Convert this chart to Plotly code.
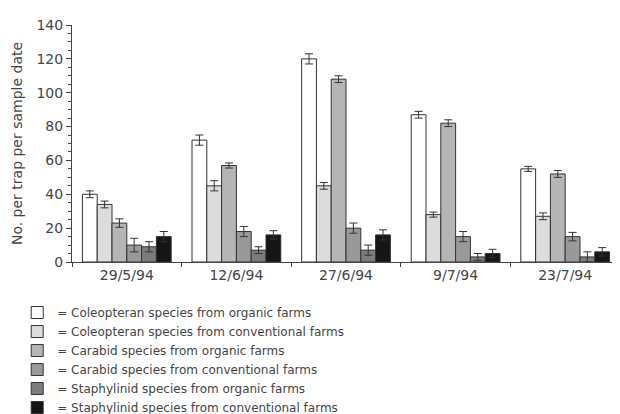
import plotly.graph_objects as go

dates = ["29/5/94", "12/6/94", "27/6/94", "9/7/94", "23/7/94"]
series_names = [
    "Coleopteran species from organic farms",
    "Coleopteran species from conventional farms",
    "Carabid species from organic farms",
    "Carabid species from conventional farms",
    "Staphylinid species from organic farms",
    "Staphylinid species from conventional farms",
]
col_org = [40, 72, 120, 87, 55]
col_conv = [34, 45, 45, 28, 27]
car_org = [23, 57, 108, 82, 52]
car_conv = [10, 18, 20, 15, 15]
sta_org = [9, 7, 7, 3, 3]
sta_conv = [15, 16, 16, 5, 6]

col_org_err = [2, 3, 3, 2, 1.5]
col_conv_err = [2, 3, 2, 1.5, 2]
car_org_err = [2.5, 1.5, 2, 2, 2]
car_conv_err = [4, 3, 3, 3, 2.5]
sta_org_err = [3, 2, 3, 2, 3]
sta_conv_err = [3, 2.5, 3, 2.5, 2.5]

values = [col_org, col_conv, car_org, car_conv, sta_org, sta_conv]
errors = [col_org_err, col_conv_err, car_org_err, car_conv_err, sta_org_err, sta_conv_err]
colors = ["#ffffff", "#dcdcdc", "#b5b5b5", "#999999", "#7c7c7c", "#151515"]

FONT = "DejaVu Sans, Liberation Sans, Arial, sans-serif"

fig = go.Figure()
for name, vals, errs, c in zip(series_names, values, errors, colors):
    fig.add_trace(go.Bar(
        x=dates, y=vals, name="= " + name,
        marker=dict(color=c, line=dict(color="#333333", width=1)),
        error_y=dict(type="data", array=errs, visible=True, color="#333333",
                     thickness=1, width=4),
    ))

fig.update_layout(
    width=612, height=406,
    margin=dict(l=64, r=0, t=17, b=152, autoexpand=False),
    paper_bgcolor="white", plot_bgcolor="white",
    barmode="group", bargap=0.19, bargroupgap=0,
    font=dict(family=FONT, color="#444444", size=13),
    showlegend=True,
    legend=dict(
        x=-0.1, y=-0.152, xanchor="left", yanchor="top",
        font=dict(size=12, color="#444444"),
        bgcolor="rgba(0,0,0,0)",
        tracegroupgap=0,
        itemclick=False,
    ),
    xaxis=dict(
        automargin=False,
        showline=True, linecolor="#444444", linewidth=1,
        ticks="outside", tickson="boundaries", ticklen=4, tickcolor="#444444",
        tickfont=dict(size=14, color="#444444"),
        showgrid=False, zeroline=False,
    ),
    yaxis=dict(
        automargin=False,
        range=[0, 140], tickvals=[0, 20, 40, 60, 80, 100, 120, 140],
        showline=True, linecolor="#444444", linewidth=1,
        ticks="outside", ticklen=5, tickcolor="#444444",
        minor=dict(dtick=5, ticks="outside", ticklen=3, tickcolor="#444444"),
        tickfont=dict(size=14, color="#444444"),
        showgrid=False, zeroline=False,
        title=dict(text="No. per trap per sample date", font=dict(size=14, color="#444444"), standoff=10),
    ),
)

fig.write_html("out.html")
